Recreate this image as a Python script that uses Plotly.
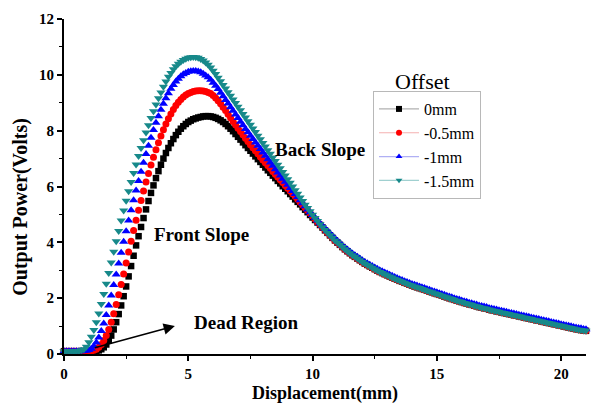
import plotly.graph_objects as go

# ---------------- data ----------------
X_START = 0.0
X_STEP = 0.1
N_POINTS = 211
displacement = [round(X_START + i * X_STEP, 1) for i in range(N_POINTS)]

series_names = ["0mm", "-0.5mm", "-1mm", "-1.5mm"]

offset_0mm = [
    0.10, 0.10, 0.10, 0.10, 0.10, 0.10, 0.10, 0.10, 0.10, 0.10,
    0.10, 0.10, 0.10, 0.11, 0.13, 0.17, 0.24, 0.34, 0.48, 0.66,
    0.88, 1.14, 1.43, 1.74, 2.07, 2.42, 2.78, 3.15, 3.52, 3.89,
    4.22, 4.55, 4.87, 5.18, 5.48, 5.77, 6.04, 6.30, 6.55, 6.78,
    7.00, 7.20, 7.38, 7.55, 7.70, 7.84, 7.96, 8.07, 8.16, 8.24,
    8.31, 8.36, 8.41, 8.44, 8.47, 8.49, 8.51, 8.52, 8.52, 8.51,
    8.49, 8.46, 8.42, 8.37, 8.31, 8.24, 8.16, 8.07, 7.98, 7.88,
    7.78, 7.68, 7.58, 7.48, 7.38, 7.28, 7.18, 7.08, 6.98, 6.88,
    6.78, 6.68, 6.58, 6.49, 6.39, 6.30, 6.20, 6.11, 6.01, 5.92,
    5.83, 5.73, 5.64, 5.54, 5.45, 5.36, 5.26, 5.17, 5.08, 4.98,
    4.89, 4.80, 4.71, 4.62, 4.53, 4.43, 4.34, 4.25, 4.16, 4.07,
    3.99, 3.91, 3.83, 3.75, 3.68, 3.61, 3.54, 3.48, 3.42, 3.36,
    3.30, 3.24, 3.19, 3.14, 3.09, 3.04, 2.99, 2.94, 2.90, 2.86,
    2.82, 2.78, 2.74, 2.70, 2.66, 2.62, 2.59, 2.55, 2.52, 2.48,
    2.45, 2.42, 2.39, 2.36, 2.33, 2.30, 2.27, 2.24, 2.21, 2.18,
    2.15, 2.12, 2.09, 2.06, 2.03, 2.00, 1.97, 1.94, 1.91, 1.89,
    1.86, 1.83, 1.81, 1.78, 1.76, 1.73, 1.71, 1.68, 1.66, 1.64,
    1.62, 1.59, 1.57, 1.55, 1.53, 1.51, 1.49, 1.47, 1.45, 1.43,
    1.41, 1.39, 1.37, 1.35, 1.33, 1.31, 1.29, 1.27, 1.25, 1.23,
    1.21, 1.19, 1.17, 1.15, 1.13, 1.11, 1.09, 1.07, 1.05, 1.03,
    1.01, 0.99, 0.97, 0.95, 0.93, 0.91, 0.89, 0.87, 0.86, 0.84,
    0.83,
]

offset_05mm = [
    0.10, 0.10, 0.10, 0.10, 0.10, 0.10, 0.10, 0.10, 0.10, 0.10,
    0.10, 0.11, 0.13, 0.17, 0.24, 0.34, 0.48, 0.66, 0.88, 1.14,
    1.44, 1.77, 2.12, 2.49, 2.87, 3.26, 3.65, 4.04, 4.42, 4.79,
    5.15, 5.50, 5.84, 6.16, 6.47, 6.77, 7.05, 7.32, 7.57, 7.81,
    8.03, 8.24, 8.43, 8.60, 8.76, 8.90, 9.02, 9.12, 9.21, 9.28,
    9.33, 9.37, 9.40, 9.42, 9.43, 9.43, 9.42, 9.40, 9.37, 9.33,
    9.26, 9.17, 9.07, 8.96, 8.84, 8.72, 8.59, 8.46, 8.33, 8.21,
    8.09, 7.97, 7.85, 7.73, 7.61, 7.50, 7.39, 7.28, 7.17, 7.06,
    6.95, 6.85, 6.75, 6.65, 6.54, 6.44, 6.34, 6.24, 6.14, 6.04,
    5.94, 5.84, 5.74, 5.64, 5.54, 5.44, 5.34, 5.24, 5.14, 5.04,
    4.94, 4.84, 4.74, 4.64, 4.54, 4.44, 4.34, 4.25, 4.16, 4.07,
    3.99, 3.91, 3.83, 3.75, 3.68, 3.61, 3.54, 3.48, 3.42, 3.36,
    3.30, 3.24, 3.19, 3.14, 3.09, 3.04, 2.99, 2.94, 2.90, 2.86,
    2.82, 2.78, 2.74, 2.70, 2.66, 2.62, 2.59, 2.55, 2.52, 2.48,
    2.45, 2.42, 2.39, 2.36, 2.33, 2.30, 2.27, 2.24, 2.21, 2.18,
    2.15, 2.12, 2.09, 2.06, 2.03, 2.00, 1.97, 1.94, 1.91, 1.89,
    1.86, 1.83, 1.81, 1.78, 1.76, 1.73, 1.71, 1.68, 1.66, 1.64,
    1.62, 1.59, 1.57, 1.55, 1.53, 1.51, 1.49, 1.47, 1.45, 1.43,
    1.41, 1.39, 1.37, 1.35, 1.33, 1.31, 1.29, 1.27, 1.25, 1.23,
    1.21, 1.19, 1.17, 1.15, 1.13, 1.11, 1.09, 1.07, 1.05, 1.03,
    1.01, 0.99, 0.97, 0.95, 0.93, 0.91, 0.89, 0.87, 0.86, 0.84,
    0.83,
]

offset_1mm = [
    0.10, 0.10, 0.10, 0.10, 0.10, 0.10, 0.10, 0.10, 0.11, 0.12,
    0.14, 0.19, 0.28, 0.41, 0.59, 0.82, 1.09, 1.40, 1.74, 2.10,
    2.47, 2.85, 3.24, 3.63, 4.02, 4.40, 4.78, 5.15, 5.51, 5.86,
    6.20, 6.53, 6.85, 7.16, 7.46, 7.75, 8.02, 8.28, 8.52, 8.75,
    8.96, 9.16, 9.34, 9.50, 9.64, 9.76, 9.86, 9.95, 10.02, 10.07,
    10.11, 10.13, 10.14, 10.14, 10.12, 10.09, 10.04, 9.98, 9.91, 9.82,
    9.72, 9.61, 9.49, 9.36, 9.23, 9.10, 8.97, 8.84, 8.71, 8.58,
    8.45, 8.32, 8.19, 8.06, 7.94, 7.82, 7.70, 7.58, 7.46, 7.34,
    7.22, 7.10, 6.98, 6.86, 6.74, 6.62, 6.50, 6.39, 6.28, 6.17,
    6.06, 5.95, 5.84, 5.73, 5.62, 5.51, 5.40, 5.29, 5.18, 5.08,
    4.98, 4.88, 4.78, 4.68, 4.59, 4.50, 4.41, 4.32, 4.23, 4.14,
    4.05, 3.97, 3.89, 3.81, 3.74, 3.67, 3.60, 3.54, 3.48, 3.42,
    3.36, 3.30, 3.25, 3.20, 3.15, 3.10, 3.05, 3.00, 2.96, 2.92,
    2.88, 2.84, 2.80, 2.76, 2.72, 2.68, 2.65, 2.61, 2.58, 2.54,
    2.51, 2.48, 2.45, 2.42, 2.39, 2.36, 2.33, 2.30, 2.27, 2.24,
    2.21, 2.18, 2.15, 2.12, 2.09, 2.06, 2.03, 2.00, 1.97, 1.95,
    1.92, 1.89, 1.87, 1.84, 1.82, 1.79, 1.77, 1.74, 1.72, 1.70,
    1.68, 1.65, 1.63, 1.61, 1.59, 1.57, 1.55, 1.53, 1.51, 1.49,
    1.47, 1.45, 1.43, 1.41, 1.39, 1.37, 1.35, 1.33, 1.31, 1.29,
    1.27, 1.25, 1.23, 1.21, 1.19, 1.17, 1.15, 1.13, 1.11, 1.09,
    1.07, 1.05, 1.03, 1.01, 0.99, 0.97, 0.95, 0.93, 0.92, 0.90,
    0.89,
]

offset_15mm = [
    0.10, 0.10, 0.10, 0.10, 0.10, 0.10, 0.11, 0.13, 0.17, 0.26,
    0.42, 0.62, 0.86, 1.14, 1.45, 1.79, 2.15, 2.52, 2.90, 3.28,
    3.66, 4.04, 4.41, 4.78, 5.14, 5.49, 5.83, 6.16, 6.48, 6.79,
    7.09, 7.38, 7.66, 7.93, 8.19, 8.45, 8.70, 8.94, 9.16, 9.37,
    9.57, 9.76, 9.93, 10.07, 10.20, 10.31, 10.40, 10.47, 10.53, 10.58,
    10.61, 10.63, 10.64, 10.63, 10.61, 10.57, 10.51, 10.44, 10.36, 10.26,
    10.15, 10.03, 9.90, 9.77, 9.64, 9.51, 9.38, 9.25, 9.12, 8.99,
    8.86, 8.73, 8.60, 8.47, 8.34, 8.21, 8.08, 7.95, 7.82, 7.69,
    7.56, 7.43, 7.30, 7.17, 7.04, 6.91, 6.78, 6.65, 6.52, 6.39,
    6.26, 6.13, 6.00, 5.87, 5.74, 5.61, 5.48, 5.35, 5.23, 5.11,
    4.99, 4.87, 4.76, 4.65, 4.54, 4.44, 4.34, 4.25, 4.16, 4.07,
    3.99, 3.91, 3.83, 3.75, 3.68, 3.61, 3.54, 3.48, 3.42, 3.36,
    3.30, 3.24, 3.19, 3.14, 3.09, 3.04, 2.99, 2.94, 2.90, 2.86,
    2.82, 2.78, 2.74, 2.70, 2.66, 2.62, 2.59, 2.55, 2.52, 2.48,
    2.45, 2.42, 2.39, 2.36, 2.33, 2.30, 2.27, 2.24, 2.21, 2.18,
    2.15, 2.12, 2.09, 2.06, 2.03, 2.00, 1.97, 1.94, 1.91, 1.89,
    1.86, 1.83, 1.81, 1.78, 1.76, 1.73, 1.71, 1.68, 1.66, 1.64,
    1.62, 1.59, 1.57, 1.55, 1.53, 1.51, 1.49, 1.47, 1.45, 1.43,
    1.41, 1.39, 1.37, 1.35, 1.33, 1.31, 1.29, 1.27, 1.25, 1.23,
    1.21, 1.19, 1.17, 1.15, 1.13, 1.11, 1.09, 1.07, 1.05, 1.03,
    1.01, 0.99, 0.97, 0.95, 0.93, 0.91, 0.89, 0.87, 0.86, 0.84,
    0.83,
]

x_ticks = [0, 5, 10, 15, 20]
x_tick_labels = ["0", "5", "10", "15", "20"]
y_ticks = [0, 2, 4, 6, 8, 10, 12]
y_tick_labels = ["0", "2", "4", "6", "8", "10", "12"]

# ---------------- styles ----------------
SERIF = "Liberation Serif"
series_values = [offset_0mm, offset_05mm, offset_1mm, offset_15mm]
colors = ["#000000", "#ff0000", "#0000ff", "#17898a"]
legend_line_colors = ["#b0b0b0", "#f4b0b0", "#b0b0f4", "#a0d0d0"]
symbols = ["square", "circle", "triangle-up", "triangle-down"]
sizes = [6.5, 7, 8, 8]

fig = go.Figure()

for name, vals, col, sym, sz in zip(series_names, series_values, colors, symbols, sizes):
    fig.add_trace(go.Scatter(
        x=displacement, y=vals, mode="markers", name=name, showlegend=False,
        marker=dict(symbol=sym, size=sz, color=col, line=dict(width=0)),
        cliponaxis=False,
    ))

# legend entries (line + marker as in the original legend)
for name, col, lcol, sym in zip(series_names, colors, legend_line_colors, symbols):
    fig.add_trace(go.Scatter(
        x=[None], y=[None], mode="lines+markers", name=name,
        line=dict(color=lcol, width=1.2),
        marker=dict(symbol=sym, size=6, color=col, line=dict(width=0)),
    ))

axis_common = dict(
    showline=True, linecolor="black", linewidth=1.8, mirror=False,
    ticks="outside", ticklen=5, tickwidth=1.5, tickcolor="black",
    showgrid=False, zeroline=False,
    tickfont=dict(family=SERIF, size=15, color="black"),
)

fig.update_layout(
    width=592, height=406,
    margin=dict(l=64, r=6, t=19, b=50),
    paper_bgcolor="white", plot_bgcolor="white",
    xaxis=dict(
        range=[0, 21], tickvals=x_ticks,
        ticktext=["<b>%s</b>" % t for t in x_tick_labels],
        minor=dict(ticks="outside", ticklen=3, tickwidth=1.2, tickcolor="black",
                   tickvals=[2.5, 7.5, 12.5, 17.5]),
        title=dict(text="<b>Displacement(mm)</b>", standoff=5,
                   font=dict(family=SERIF, size=18, color="black")),
        **axis_common,
    ),
    yaxis=dict(
        range=[0, 12], tickvals=y_ticks,
        ticktext=["<b>%s</b>" % t for t in y_tick_labels],
        minor=dict(ticks="outside", ticklen=3, tickwidth=1.2, tickcolor="black",
                   tickvals=[1, 3, 5, 7, 9, 11]),
        **axis_common,
    ),
    legend=dict(
        x=0.592, y=0.785, xanchor="left", yanchor="top",
        bgcolor="white", bordercolor="#b8b8b8", borderwidth=1,
        font=dict(family=SERIF, size=16, color="black"),
        itemwidth=40, tracegroupgap=0,
    ),
    showlegend=True,
)

annotations = [
    dict(text="<b>Output Power(Volts)</b>", x=-0.084, y=0.44,
         xref="paper", yref="paper", xanchor="center", yanchor="middle",
         textangle=-90, showarrow=False,
         font=dict(family=SERIF, size=20, color="black")),
    dict(text="Offset", x=0.686, y=0.813, xref="paper", yref="paper",
         xanchor="center", yanchor="middle",
         showarrow=False, font=dict(family=SERIF, size=22, color="black")),
    dict(text="<b>Back Slope</b>", x=10.28, y=7.34, xref="x", yref="y",
         showarrow=False, font=dict(family=SERIF, size=19, color="black")),
    dict(text="<b>Front Slope</b>", x=5.54, y=4.27, xref="x", yref="y",
         showarrow=False, font=dict(family=SERIF, size=19, color="black")),
    dict(text="<b>Dead Region</b>", x=7.31, y=1.14, xref="x", yref="y",
         showarrow=False, font=dict(family=SERIF, size=19, color="black")),
    dict(text="", x=4.46, y=1.0, ax=1.18, ay=0.21, xref="x", yref="y",
         axref="x", ayref="y", showarrow=True, arrowhead=2, arrowsize=1.4,
         arrowwidth=1.6, arrowcolor="black"),
]
fig.update_layout(annotations=annotations)

fig.write_html("out.html")
